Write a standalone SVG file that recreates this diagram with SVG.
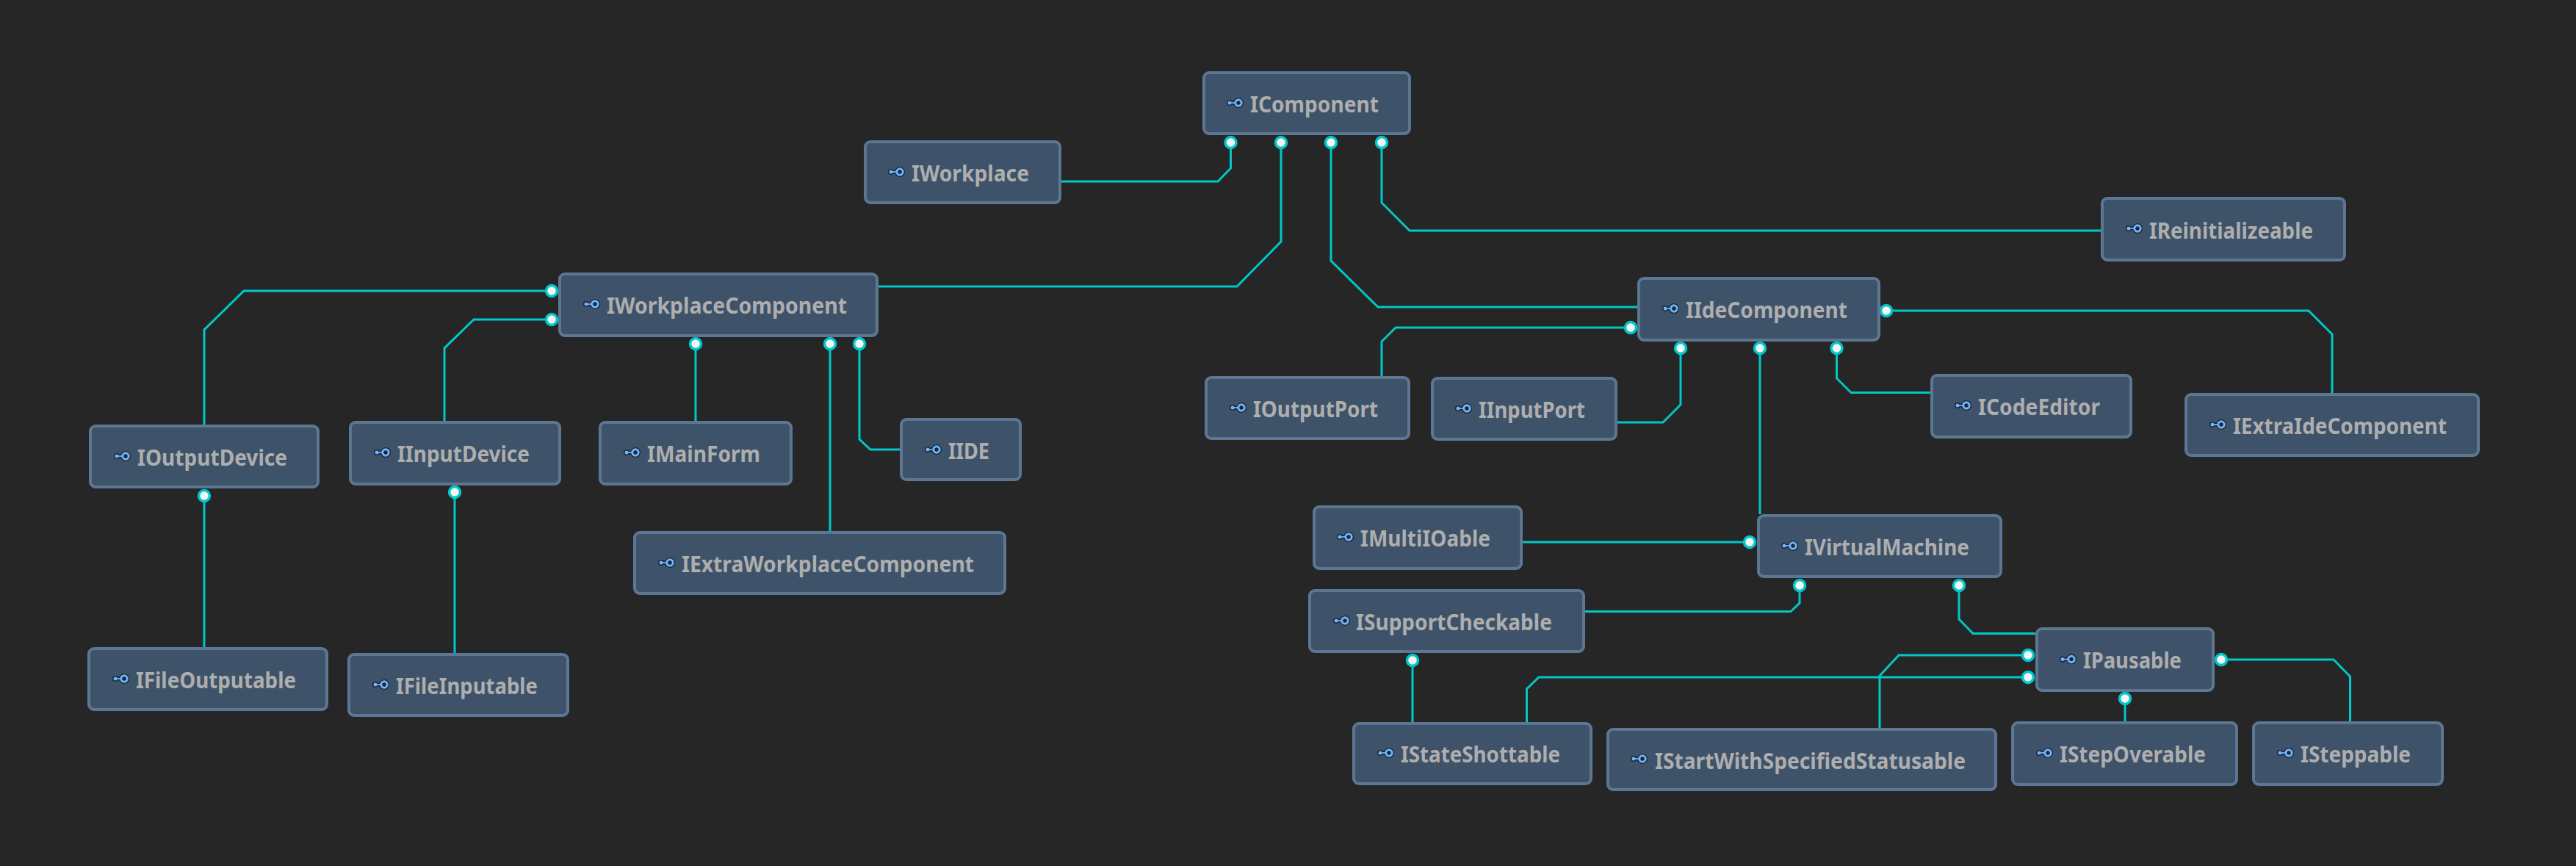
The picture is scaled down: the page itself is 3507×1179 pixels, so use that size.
<svg xmlns="http://www.w3.org/2000/svg" width="3507" height="1179" viewBox="0 0 3507 1179">
<style>
.bg{fill:#262626}
.n{fill:#3e5369;stroke:#5c7793;stroke-width:4}
.t{font-family:"Noto Sans","Open Sans",sans-serif;font-weight:700;font-size:30px;fill:#aeaeae}
.c{fill:none;stroke:#00c8c8;stroke-width:3;marker-end:url(#dot)}
</style>
<defs>
<marker id="dot" markerUnits="userSpaceOnUse" markerWidth="24" markerHeight="24" refX="12" refY="12" orient="0" overflow="visible"><circle cx="12" cy="12" r="7.5" fill="#f5f5f5" stroke="#00c8c8" stroke-width="3.500"/></marker>
<g id="ic"><path d="M-12 0H-4" stroke="#1c2634" stroke-width="5" fill="none" stroke-linecap="round"/><circle cx="-12" cy="0" r="4" fill="#1c2634"/><circle cx="0" cy="0" r="7" fill="#1c2634"/><path d="M-12 0H-4" stroke="#6eb4ff" stroke-width="1.800" fill="none"/><circle cx="-12" cy="0" r="2.500" fill="#6eb4ff"/><circle cx="0" cy="0" r="4.200" fill="none" stroke="#6eb4ff" stroke-width="3"/></g>
</defs>
<rect class="bg" width="3507" height="1179"/>
<g id="connectors">
<path class="c" d="M1445 247H1658L1675.500 229V194"/>
<path class="c" d="M1195 390H1684L1744 329V194"/>
<path class="c" d="M2230 418H1876L1812 355V194"/>
<path class="c" d="M2860 314H1919L1881 276V194"/>
<path class="c" d="M278 578V449L332 396H751"/>
<path class="c" d="M605 573V474L645 435H751"/>
<path class="c" d="M947 573V468"/>
<path class="c" d="M1130 723V468"/>
<path class="c" d="M1226 612H1185L1170 598V468"/>
<path class="c" d="M278 881V675"/>
<path class="c" d="M619 889V670"/>
<path class="c" d="M1881 512V465L1900 446H2220"/>
<path class="c" d="M2200 575H2264L2288 551V474"/>
<path class="c" d="M2396 700V474"/>
<path class="c" d="M2629 534.500H2520L2500.500 515V474"/>
<path class="c" d="M3175 535V455L3143 423H2568"/>
<path class="c" d="M2072 738H2382"/>
<path class="c" d="M2157 832.500H2438L2450 821V797"/>
<path class="c" d="M2771 862.500H2686L2667 843V797"/>
<path class="c" d="M2559 991V920L2585 892H2761"/>
<path class="c" d="M2078.500 983V938L2095 922H2761"/>
<path class="c" d="M1923 983V899"/>
<path class="c" d="M2893 982V951"/>
<path class="c" d="M3199.500 982V921L3177 898H3024"/>
</g>
<g id="IComponent"><rect class="n" x="1639" y="99" width="280" height="83" rx="7"/><use href="#ic" x="1686" y="140"/><text class="t" x="1702" y="153" textLength="175" lengthAdjust="spacingAndGlyphs">IComponent</text></g>
<g id="IWorkplace"><rect class="n" x="1178" y="193" width="265" height="83" rx="7"/><use href="#ic" x="1225" y="234"/><text class="t" x="1241" y="247" textLength="160" lengthAdjust="spacingAndGlyphs">IWorkplace</text></g>
<g id="IReinitializeable"><rect class="n" x="2862" y="270" width="330" height="84" rx="7"/><use href="#ic" x="2910" y="311"/><text class="t" x="2926" y="325" textLength="223" lengthAdjust="spacingAndGlyphs">IReinitializeable</text></g>
<g id="IWorkplaceComponent"><rect class="n" x="762" y="373" width="432" height="84" rx="7"/><use href="#ic" x="810" y="414"/><text class="t" x="826" y="427" textLength="327" lengthAdjust="spacingAndGlyphs">IWorkplaceComponent</text></g>
<g id="IIdeComponent"><rect class="n" x="2231" y="379" width="327" height="84" rx="7"/><use href="#ic" x="2279" y="420"/><text class="t" x="2295" y="433" textLength="220" lengthAdjust="spacingAndGlyphs">IIdeComponent</text></g>
<g id="IOutputDevice"><rect class="n" x="123" y="580" width="310" height="83" rx="7"/><use href="#ic" x="171" y="621"/><text class="t" x="187" y="634" textLength="204" lengthAdjust="spacingAndGlyphs">IOutputDevice</text></g>
<g id="IInputDevice"><rect class="n" x="477" y="575" width="285" height="84" rx="7"/><use href="#ic" x="525" y="616"/><text class="t" x="541" y="629" textLength="180" lengthAdjust="spacingAndGlyphs">IInputDevice</text></g>
<g id="IMainForm"><rect class="n" x="817" y="575" width="260" height="84" rx="7"/><use href="#ic" x="865" y="616"/><text class="t" x="881" y="629" textLength="154" lengthAdjust="spacingAndGlyphs">IMainForm</text></g>
<g id="IIDE"><rect class="n" x="1227" y="571" width="162" height="82" rx="7"/><use href="#ic" x="1275" y="612"/><text class="t" x="1291" y="625" textLength="56" lengthAdjust="spacingAndGlyphs">IIDE</text></g>
<g id="IExtraWorkplaceComponent"><rect class="n" x="864" y="725" width="504" height="83" rx="7"/><use href="#ic" x="912" y="766"/><text class="t" x="928" y="779" textLength="398" lengthAdjust="spacingAndGlyphs">IExtraWorkplaceComponent</text></g>
<g id="IFileOutputable"><rect class="n" x="121" y="883" width="324" height="83" rx="7"/><use href="#ic" x="169" y="924"/><text class="t" x="185" y="937" textLength="218" lengthAdjust="spacingAndGlyphs">IFileOutputable</text></g>
<g id="IFileInputable"><rect class="n" x="475" y="891" width="298" height="83" rx="7"/><use href="#ic" x="523" y="932"/><text class="t" x="539" y="945" textLength="193" lengthAdjust="spacingAndGlyphs">IFileInputable</text></g>
<g id="IOutputPort"><rect class="n" x="1642" y="514" width="276" height="83" rx="7"/><use href="#ic" x="1690" y="555"/><text class="t" x="1706" y="568" textLength="170" lengthAdjust="spacingAndGlyphs">IOutputPort</text></g>
<g id="IInputPort"><rect class="n" x="1950" y="515" width="250" height="83" rx="7"/><use href="#ic" x="1997" y="556"/><text class="t" x="2013" y="569" textLength="145" lengthAdjust="spacingAndGlyphs">IInputPort</text></g>
<g id="ICodeEditor"><rect class="n" x="2630" y="511" width="271" height="84" rx="7"/><use href="#ic" x="2677" y="552"/><text class="t" x="2693" y="565" textLength="166" lengthAdjust="spacingAndGlyphs">ICodeEditor</text></g>
<g id="IExtraIdeComponent"><rect class="n" x="2976" y="537" width="398" height="83" rx="7"/><use href="#ic" x="3024" y="578"/><text class="t" x="3040" y="591" textLength="291" lengthAdjust="spacingAndGlyphs">IExtraIdeComponent</text></g>
<g id="IMultiIOable"><rect class="n" x="1789" y="690" width="282" height="84" rx="7"/><use href="#ic" x="1836" y="731"/><text class="t" x="1852" y="744" textLength="177" lengthAdjust="spacingAndGlyphs">IMultiIOable</text></g>
<g id="IVirtualMachine"><rect class="n" x="2394" y="702" width="330" height="83" rx="7"/><use href="#ic" x="2441" y="743"/><text class="t" x="2457" y="756" textLength="224" lengthAdjust="spacingAndGlyphs">IVirtualMachine</text></g>
<g id="ISupportCheckable"><rect class="n" x="1783" y="804" width="373" height="83" rx="7"/><use href="#ic" x="1831" y="845"/><text class="t" x="1846" y="858" textLength="267" lengthAdjust="spacingAndGlyphs">ISupportCheckable</text></g>
<g id="IPausable"><rect class="n" x="2773" y="856" width="240" height="84" rx="7"/><use href="#ic" x="2820" y="897.500"/><text class="t" x="2836" y="910" textLength="134" lengthAdjust="spacingAndGlyphs">IPausable</text></g>
<g id="IStateShottable"><rect class="n" x="1843" y="985" width="323" height="82" rx="7"/><use href="#ic" x="1891" y="1025"/><text class="t" x="1907" y="1038" textLength="217" lengthAdjust="spacingAndGlyphs">IStateShottable</text></g>
<g id="IStartWithSpecifiedStatusable"><rect class="n" x="2189" y="993" width="528" height="82" rx="7"/><use href="#ic" x="2236" y="1033"/><text class="t" x="2253" y="1047" textLength="423" lengthAdjust="spacingAndGlyphs">IStartWithSpecifiedStatusable</text></g>
<g id="IStepOverable"><rect class="n" x="2740" y="984" width="305" height="84" rx="7"/><use href="#ic" x="2788" y="1025"/><text class="t" x="2804" y="1038" textLength="199" lengthAdjust="spacingAndGlyphs">IStepOverable</text></g>
<g id="ISteppable"><rect class="n" x="3068" y="984" width="257" height="84" rx="7"/><use href="#ic" x="3116" y="1025"/><text class="t" x="3132" y="1038" textLength="150" lengthAdjust="spacingAndGlyphs">ISteppable</text></g>
</svg>
